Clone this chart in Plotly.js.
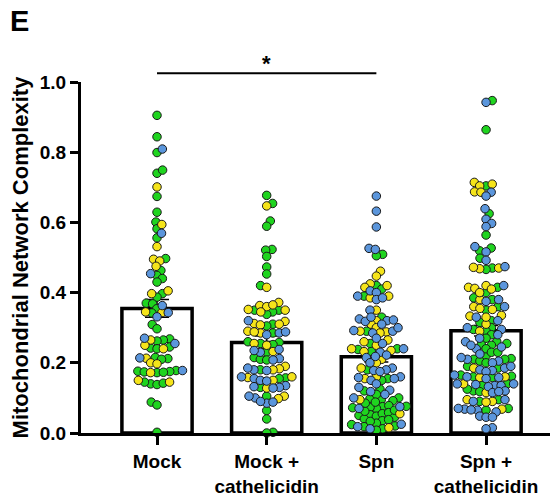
<!DOCTYPE html>
<html><head><meta charset="utf-8">
<script src="https://cdn.plot.ly/plotly-3.0.1.min.js"></script>
<style>html,body{margin:0;padding:0;background:#fff}#chart{width:550px;height:497px}</style>
</head><body><div id="chart"></div>
<script>
// ---- data ----
const categories = ['Mock', 'Mock +<br>cathelicidin', 'Spn', 'Spn +<br>cathelicidin'];
const barMeans = [0.355, 0.258, 0.217, 0.291];
const barSem = [0.025, 0.018, 0.015, 0.015];

const mockGreen = [0.905, 0.844, 0.799, 0.740, 0.749, 0.674, 0.629, 0.601, 0.582, 0.556, 0.497, 0.463, 0.449, 0.44, 0.43, 0.397, 0.387, 0.37, 0.368, 0.354, 0.342, 0.309, 0.297, 0.268, 0.265, 0.262, 0.245, 0.242, 0.24, 0.215, 0.212, 0.21, 0.178, 0.175, 0.172, 0.173, 0.176, 0.174, 0.14, 0.145, 0.138, 0.142, 0.088, 0.08, 0.002];
const mockYellow = [0.701, 0.594, 0.531, 0.495, 0.49, 0.475, 0.405, 0.397, 0.343, 0.345, 0.265, 0.25, 0.24, 0.213, 0.2, 0.197, 0.172, 0.15, 0.145];
const mockBlue = [0.809, 0.569, 0.454, 0.363, 0.343, 0.331, 0.27, 0.255, 0.214, 0.178];

const mockCathGreen = [0.677, 0.654, 0.604, 0.589, 0.523, 0.521, 0.503, 0.473, 0.453, 0.42, 0.35, 0.345, 0.35, 0.338, 0.31, 0.305, 0.285, 0.26, 0.255, 0.258, 0.252, 0.23, 0.215, 0.21, 0.208, 0.18, 0.157, 0.155, 0.13, 0.105, 0.064, 0.04, 0.002, 0.0];
const mockCathYellow = [0.647, 0.415, 0.372, 0.363, 0.352, 0.36, 0.345, 0.35, 0.365, 0.318, 0.312, 0.308, 0.31, 0.29, 0.285, 0.288, 0.255, 0.25, 0.232, 0.19, 0.183, 0.18, 0.158, 0.16, 0.15, 0.128, 0.105, 0.098];
const mockCathBlue = [0.32, 0.285, 0.288, 0.28, 0.23, 0.235, 0.238, 0.212, 0.208, 0.18, 0.185, 0.178, 0.16, 0.155, 0.15, 0.148, 0.135, 0.13, 0.132, 0.128, 0.1, 0.105, 0.085, 0.088, 0.09];

const spnGreen = [0.509, 0.505, 0.42, 0.41, 0.39, 0.33, 0.29, 0.255, 0.24, 0.238, 0.232, 0.18, 0.155, 0.15, 0.125, 0.1, 0.098, 0.092, 0.095, 0.075, 0.072, 0.078, 0.07, 0.073, 0.076, 0.052, 0.05, 0.048, 0.055, 0.058, 0.045, 0.035, 0.028, 0.04, 0.024, 0.033, 0.02, 0.038, 0.012, 0.018, 0.008, 0.062, 0.065, 0.11, 0.12, 0.085, 0.088];
const spnYellow = [0.461, 0.447, 0.425, 0.415, 0.42, 0.39, 0.385, 0.35, 0.32, 0.31, 0.3, 0.29, 0.288, 0.285, 0.26, 0.25, 0.265, 0.24, 0.235, 0.232, 0.21, 0.185, 0.155, 0.16, 0.095, 0.055, 0.015, 0.2];
const spnBlue = [0.675, 0.632, 0.587, 0.526, 0.523, 0.405, 0.4, 0.38, 0.39, 0.385, 0.35, 0.325, 0.32, 0.318, 0.33, 0.322, 0.292, 0.29, 0.285, 0.255, 0.24, 0.23, 0.222, 0.218, 0.215, 0.185, 0.18, 0.178, 0.175, 0.16, 0.158, 0.155, 0.15, 0.13, 0.122, 0.118, 0.11, 0.1, 0.075, 0.07, 0.025, 0.018, 0.012, 0.3, 0.31, 0.27, 0.2, 0.14];

const spnCathGreen = [0.947, 0.864, 0.704, 0.625, 0.564, 0.527, 0.519, 0.498, 0.47, 0.466, 0.415, 0.4, 0.385, 0.38, 0.36, 0.35, 0.32, 0.315, 0.3, 0.295, 0.29, 0.28, 0.27, 0.26, 0.255, 0.25, 0.252, 0.22, 0.21, 0.205, 0.212, 0.2, 0.21, 0.19, 0.185, 0.165, 0.16, 0.158, 0.162, 0.14, 0.135, 0.12, 0.118, 0.125, 0.095, 0.09, 0.07, 0.065, 0.24, 0.23, 0.23];
const spnCathYellow = [0.714, 0.709, 0.704, 0.687, 0.686, 0.47, 0.468, 0.472, 0.42, 0.415, 0.41, 0.412, 0.38, 0.36, 0.355, 0.352, 0.335, 0.333, 0.31, 0.29, 0.185, 0.16, 0.158, 0.14, 0.115, 0.095, 0.09, 0.088, 0.068, 0.4, 0.33];
const spnCathBlue = [0.942, 0.686, 0.675, 0.639, 0.609, 0.597, 0.588, 0.531, 0.516, 0.492, 0.474, 0.42, 0.38, 0.375, 0.36, 0.33, 0.295, 0.26, 0.24, 0.245, 0.25, 0.21, 0.215, 0.205, 0.2, 0.18, 0.185, 0.178, 0.175, 0.165, 0.16, 0.155, 0.158, 0.14, 0.138, 0.135, 0.132, 0.135, 0.14, 0.12, 0.115, 0.118, 0.095, 0.09, 0.065, 0.068, 0.07, 0.066, 0.06, 0.048, 0.045, 0.045, 0.015, 0.012, 0.28, 0.27, 0.225, 0.3, 0.32, 0.19];

const groups = [
  [mockGreen, mockYellow, mockBlue],
  [mockCathGreen, mockCathYellow, mockCathBlue],
  [spnGreen, spnYellow, spnBlue],
  [spnCathGreen, spnCathYellow, spnCathBlue]
];
const dotColors = ['#1fd41f', '#f5e41a', '#5b96dc'];

// ---- layout constants ----
const W = 550, H = 497;
const M = {l: 81, r: 0, t: 82, b: 64};
const xRange = [-0.693, 3.583];
const yRange = [0, 1];
const sx = (W - M.l - M.r) / (xRange[1] - xRange[0]);
const sy = (H - M.t - M.b) / (yRange[1] - yRange[0]);
const D = 6.4; // swarm spacing in px

function swarm(vals) {
  const idx = vals.map((v, i) => i).sort((a, b) => vals[a] - vals[b]);
  const placed = [];
  const xs = new Array(vals.length);
  let flip = 1;
  for (const i of idx) {
    const y = vals[i] * sy;
    const iv = [];
    for (const p of placed) {
      const dy = y - p.y;
      if (Math.abs(dy) < D) {
        const dx = Math.sqrt(D * D - dy * dy);
        iv.push([p.x - dx, p.x + dx]);
      }
    }
    const cands = [0];
    iv.forEach(([a, b]) => cands.push(a, b));
    cands.sort((a, b) => (Math.abs(a) - Math.abs(b)) || (flip * (a - b)));
    flip = -flip;
    let x = 0;
    for (const c of cands) {
      if (iv.every(([a, b]) => c <= a + 1e-6 || c >= b - 1e-6)) { x = c; break; }
    }
    placed.push({x, y});
    xs[i] = x / sx;
  }
  return xs;
}

const traces = [];
traces.push({
  type: 'bar', x: [0, 1, 2, 3], y: barMeans, width: 0.64,
  marker: {color: '#ffffff', line: {color: '#000000', width: 3.5}},
  error_y: {type: 'data', array: barSem, visible: true, color: '#000', thickness: 1.5, width: 12},
  hoverinfo: 'skip', showlegend: false
});

groups.forEach((g, gi) => {
  const vals = [], cols = [];
  g.forEach((arr, ci) => arr.forEach(v => { vals.push(v); cols.push(dotColors[ci]); }));
  const offs = swarm(vals);
  traces.push({
    type: 'scatter', mode: 'markers',
    x: offs.map(o => gi + o), y: vals,
    marker: {size: 8.5, color: cols, line: {color: '#1a1a1a', width: 1}},
    cliponaxis: false, showlegend: false, hoverinfo: 'skip'
  });
});

const fontFam = 'Arial, "Liberation Sans", sans-serif';
const layout = {
  width: W, height: H, margin: M,
  paper_bgcolor: '#fff', plot_bgcolor: '#fff',
  font: {family: fontFam, color: '#000'},
  showlegend: false,
  bargap: 0,
  xaxis: {
    range: xRange, tickvals: [0, 1, 2, 3], ticktext: categories.map(c => '<b>' + c + '</b>'),
    showgrid: false, zeroline: false, showline: true, linecolor: '#000', linewidth: 3,
    ticks: 'outside', ticklen: 9, tickwidth: 3, tickcolor: '#000',
    tickfont: {size: 19, family: fontFam, color: '#000'}, fixedrange: true
  },
  yaxis: {
    range: yRange, tickvals: [0, 0.2, 0.4, 0.6, 0.8, 1.0], ticktext: ['0.0', '0.2', '0.4', '0.6', '0.8', '1.0'].map(t => '<b>' + t + '</b>'),
    showgrid: false, zeroline: false, showline: true, linecolor: '#000', linewidth: 3,
    ticks: 'outside', ticklen: 8, tickwidth: 3, tickcolor: '#000',
    tickfont: {size: 19, family: fontFam, color: '#000'},
    title: {text: '<b>Mitochondrial Network Complexity</b>', font: {size: 22, family: fontFam, color: '#000'}, standoff: 6},
    fixedrange: true
  },
  shapes: [
    {type: 'line', xref: 'x', yref: 'paper', x0: 0, x1: 2, y0: 1.025, y1: 1.025, line: {color: '#000', width: 2}}
  ],
  annotations: [
    {xref: 'x', yref: 'paper', x: 1, y: 1.012, yanchor: 'bottom', text: '<b>*</b>', showarrow: false, font: {size: 22, family: fontFam, color: '#000'}},
    {xref: 'paper', yref: 'paper', x: -0.155, y: 1.225, xanchor: 'left', yanchor: 'top', text: '<b>E</b>', showarrow: false, font: {size: 29, family: fontFam, color: '#000'}}
  ]
};
Plotly.newPlot('chart', traces, layout, {displayModeBar: false, staticPlot: true});
</script>
</body></html>
